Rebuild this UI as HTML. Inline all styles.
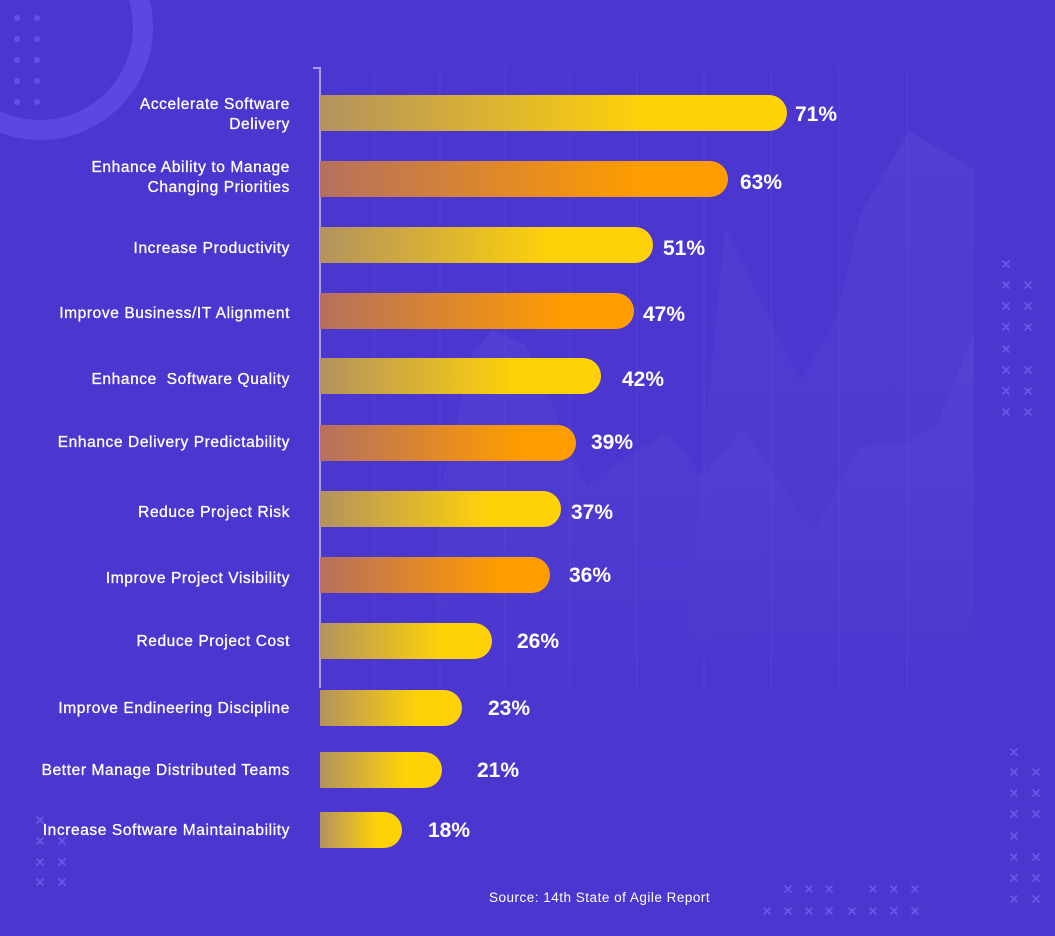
<!DOCTYPE html>
<html><head><meta charset="utf-8"><style>
html,body{margin:0;padding:0;background:#4b37d0;}
svg{display:block;}
.lbl{font-family:"Liberation Sans",sans-serif;font-size:15.5px;letter-spacing:0.6px;fill:#fff;stroke:#fff;stroke-width:0.3;text-anchor:end;}
.pct{font-family:"Liberation Sans",sans-serif;font-size:21px;font-weight:bold;fill:#fff;}
.src{font-family:"Liberation Sans",sans-serif;font-size:13.5px;letter-spacing:0.5px;fill:#fff;}
</style></head><body>
<svg width="1055" height="936" viewBox="0 0 1055 936" xmlns="http://www.w3.org/2000/svg">
<defs>
<linearGradient id="gy" x1="0" y1="0" x2="1" y2="0">
<stop offset="0" stop-color="#b3925f"/><stop offset="0.7" stop-color="#ffd208"/><stop offset="1" stop-color="#ffd208"/>
</linearGradient>
<linearGradient id="go" x1="0" y1="0" x2="1" y2="0">
<stop offset="0" stop-color="#b5705e"/><stop offset="0.78" stop-color="#ff9c00"/><stop offset="1" stop-color="#ff9c00"/>
</linearGradient>
<linearGradient id="gm" x1="0" y1="0" x2="0" y2="1">
<stop offset="0" stop-color="#ffffff" stop-opacity="0.035"/><stop offset="1" stop-color="#ffffff" stop-opacity="0.0"/>
</linearGradient>
</defs>
<rect width="1055" height="936" fill="#4b37d0"/>
<!-- ring & dots -->
<circle cx="40" cy="27" r="103" fill="none" stroke="#5d47e2" stroke-width="20"/>
<g fill="#6550e6">
<circle cx="17" cy="18" r="3"/><circle cx="37" cy="18" r="3"/>
<circle cx="17" cy="39" r="3"/><circle cx="37" cy="39" r="3"/>
<circle cx="17" cy="60" r="3"/><circle cx="37" cy="60" r="3"/>
<circle cx="17" cy="81" r="3"/><circle cx="37" cy="81" r="3"/>
<circle cx="17" cy="102" r="3"/><circle cx="37" cy="102" r="3"/>
</g>
<!-- mountains -->
<polygon points="680,688 725,228 800,380 836,320 860,215 909,131 974,169 974,688" fill="url(#gm)"/>
<polygon points="430,688 442,483 473,353 492,330 526,345 587,487 607,470 668,432 703,477 743,428 813,533 860,447 907,443 937,425 974,332 974,688" fill="url(#gm)"/>
<!-- gridlines -->
<g stroke="#ffffff" stroke-opacity="0.035" stroke-width="1.5">
<line x1="374" y1="68" x2="374" y2="688"/><line x1="440" y1="68" x2="440" y2="688"/>
<line x1="505" y1="68" x2="505" y2="688"/><line x1="570" y1="68" x2="570" y2="688"/>
<line x1="637" y1="68" x2="637" y2="688"/><line x1="704" y1="68" x2="704" y2="688"/>
<line x1="771" y1="68" x2="771" y2="688"/><line x1="839" y1="68" x2="839" y2="688"/>
<line x1="907" y1="68" x2="907" y2="688"/>
</g>
<!-- axis -->
<path d="M313,68 H320 V688" fill="none" stroke="#a99ef5" stroke-width="2"/>
<!-- bars -->
<path d="M320,95 H769 A18,18 0 0 1 769,131 H320 Z" fill="url(#gy)"/>
<path d="M320,161 H710 A18,18 0 0 1 710,197 H320 Z" fill="url(#go)"/>
<path d="M320,227 H635 A18,18 0 0 1 635,263 H320 Z" fill="url(#gy)"/>
<path d="M320,293 H616 A18,18 0 0 1 616,329 H320 Z" fill="url(#go)"/>
<path d="M320,358 H583 A18,18 0 0 1 583,394 H320 Z" fill="url(#gy)"/>
<path d="M320,425 H558 A18,18 0 0 1 558,461 H320 Z" fill="url(#go)"/>
<path d="M320,491 H543 A18,18 0 0 1 543,527 H320 Z" fill="url(#gy)"/>
<path d="M320,557 H532 A18,18 0 0 1 532,593 H320 Z" fill="url(#go)"/>
<path d="M320,623 H474 A18,18 0 0 1 474,659 H320 Z" fill="url(#gy)"/>
<path d="M320,690 H444 A18,18 0 0 1 444,726 H320 Z" fill="url(#gy)"/>
<path d="M320,752 H424 A18,18 0 0 1 424,788 H320 Z" fill="url(#gy)"/>
<path d="M320,812 H384 A18,18 0 0 1 384,848 H320 Z" fill="url(#gy)"/>
<!-- labels -->
<text class="lbl" x="290" y="109">Accelerate Software</text>
<text class="lbl" x="290" y="129">Delivery</text>
<text class="lbl" x="290" y="172">Enhance Ability to Manage</text>
<text class="lbl" x="290" y="192">Changing Priorities</text>
<text class="lbl" x="290" y="253">Increase Productivity</text>
<text class="lbl" x="290" y="318">Improve Business/IT Alignment</text>
<text class="lbl" x="290" y="384" xml:space="preserve">Enhance  Software Quality</text>
<text class="lbl" x="290" y="447">Enhance Delivery Predictability</text>
<text class="lbl" x="290" y="517">Reduce Project Risk</text>
<text class="lbl" x="290" y="583">Improve Project Visibility</text>
<text class="lbl" x="290" y="646">Reduce Project Cost</text>
<text class="lbl" x="290" y="713">Improve Endineering Discipline</text>
<text class="lbl" x="290" y="775">Better Manage Distributed Teams</text>
<text class="lbl" x="290" y="835">Increase Software Maintainability</text>
<!-- percentages -->
<text class="pct" x="795" y="121">71%</text>
<text class="pct" x="740" y="189">63%</text>
<text class="pct" x="663" y="255">51%</text>
<text class="pct" x="643" y="321">47%</text>
<text class="pct" x="622" y="386">42%</text>
<text class="pct" x="591" y="449">39%</text>
<text class="pct" x="571" y="519">37%</text>
<text class="pct" x="569" y="582">36%</text>
<text class="pct" x="517" y="648">26%</text>
<text class="pct" x="488" y="715">23%</text>
<text class="pct" x="477" y="777">21%</text>
<text class="pct" x="428" y="837">18%</text>
<!-- source -->
<text class="src" x="489" y="902">Source: 14th State of Agile Report</text>
<!-- x marks -->
<g stroke="#6a59e6" stroke-width="1.6" stroke-linecap="round" fill="none">
<path d="
M1003,261 l6,6 m0,-6 l-6,6
M1003,282 l6,6 m0,-6 l-6,6 M1025,282 l6,6 m0,-6 l-6,6
M1003,303 l6,6 m0,-6 l-6,6 M1025,303 l6,6 m0,-6 l-6,6
M1003,324 l6,6 m0,-6 l-6,6 M1025,324 l6,6 m0,-6 l-6,6
M1003,346 l6,6 m0,-6 l-6,6
M1003,367 l6,6 m0,-6 l-6,6 M1025,367 l6,6 m0,-6 l-6,6
M1003,388 l6,6 m0,-6 l-6,6 M1025,388 l6,6 m0,-6 l-6,6
M1003,409 l6,6 m0,-6 l-6,6 M1025,409 l6,6 m0,-6 l-6,6
M1011,749 l6,6 m0,-6 l-6,6
M1011,769 l6,6 m0,-6 l-6,6 M1033,769 l6,6 m0,-6 l-6,6
M1011,790 l6,6 m0,-6 l-6,6 M1033,790 l6,6 m0,-6 l-6,6
M1011,811 l6,6 m0,-6 l-6,6 M1033,811 l6,6 m0,-6 l-6,6
M1011,833 l6,6 m0,-6 l-6,6
M1011,854 l6,6 m0,-6 l-6,6 M1033,854 l6,6 m0,-6 l-6,6
M1011,875 l6,6 m0,-6 l-6,6 M1033,875 l6,6 m0,-6 l-6,6
M1011,896 l6,6 m0,-6 l-6,6 M1033,896 l6,6 m0,-6 l-6,6
M785,886 l6,6 m0,-6 l-6,6 M806,886 l6,6 m0,-6 l-6,6 M826,886 l6,6 m0,-6 l-6,6
M870,886 l6,6 m0,-6 l-6,6 M891,886 l6,6 m0,-6 l-6,6 M912,886 l6,6 m0,-6 l-6,6
M764,908 l6,6 m0,-6 l-6,6 M785,908 l6,6 m0,-6 l-6,6 M806,908 l6,6 m0,-6 l-6,6 M826,908 l6,6 m0,-6 l-6,6
M849,908 l6,6 m0,-6 l-6,6 M870,908 l6,6 m0,-6 l-6,6 M891,908 l6,6 m0,-6 l-6,6 M912,908 l6,6 m0,-6 l-6,6
M37,817 l6,6 m0,-6 l-6,6
M37,838 l6,6 m0,-6 l-6,6 M59,838 l6,6 m0,-6 l-6,6
M37,859 l6,6 m0,-6 l-6,6 M59,859 l6,6 m0,-6 l-6,6
M37,879 l6,6 m0,-6 l-6,6 M59,879 l6,6 m0,-6 l-6,6
"/>
</g>
</svg>
</body></html>
